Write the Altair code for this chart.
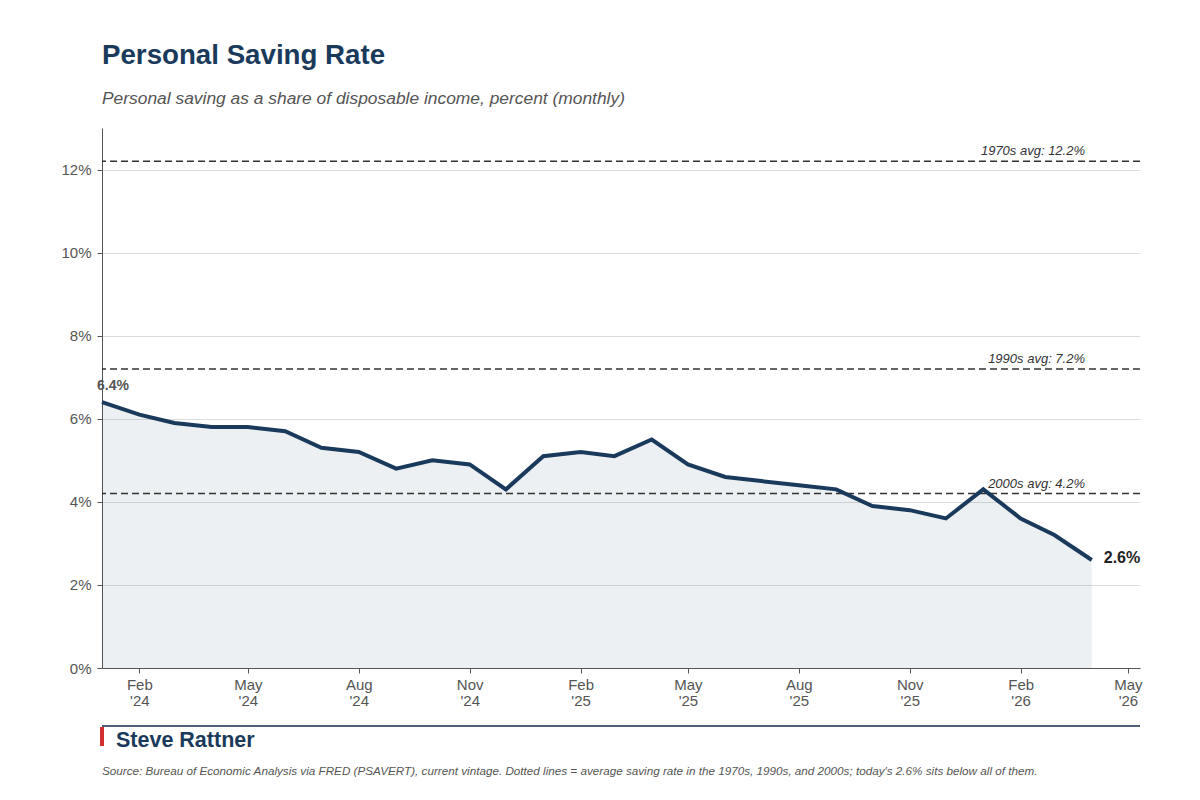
import altair as alt
import pandas as pd

months = [
    "2024-01-01", "2024-02-01", "2024-03-01", "2024-04-01", "2024-05-01", "2024-06-01",
    "2024-07-01", "2024-08-01", "2024-09-01", "2024-10-01", "2024-11-01", "2024-12-01",
    "2025-01-01", "2025-02-01", "2025-03-01", "2025-04-01", "2025-05-01", "2025-06-01",
    "2025-07-01", "2025-08-01", "2025-09-01", "2025-10-01", "2025-11-01", "2025-12-01",
    "2026-01-01", "2026-02-01", "2026-03-01", "2026-04-01",
]
saving_rate = [
    6.4, 6.1, 5.9, 5.8, 5.8, 5.7, 5.3, 5.2, 4.8, 5.0, 4.9, 4.3,
    5.1, 5.2, 5.1, 5.5, 4.9, 4.6, 4.5, 4.4, 4.3, 3.9, 3.8, 3.6,
    4.3, 3.6, 3.2, 2.6,
]
avg_labels = ["1970s avg: 12.2%", "1990s avg: 7.2%", "2000s avg: 4.2%"]
avg_values = [12.2, 7.2, 4.2]
tick_months = [(2024, 2), (2024, 5), (2024, 8), (2024, 11), (2025, 2), (2025, 5),
               (2025, 8), (2025, 11), (2026, 2), (2026, 5)]
title_text = ["Personal Saving Rate"]
subtitle_text = ["Personal saving as a share of disposable income, percent (monthly)"]
brand_text = ["Steve Rattner"]
source_text = ["Source: Bureau of Economic Analysis via FRED (PSAVERT), current vintage. "
               "Dotted lines = average saving rate in the 1970s, 1990s, and 2000s; "
               "today's 2.6% sits below all of them."]

NAVY = "#1a3a5c"
W, H = 1038, 540
FONT = "Liberation Sans"

df = pd.DataFrame({"date": months, "rate": saving_rate})
avg_df = pd.DataFrame({"label": avg_labels, "value": avg_values})
first_df = df.iloc[[0]].assign(lbl=lambda d: d["rate"].map(lambda v: f"{v:.1f}%"))
last_df = df.iloc[[-1]].assign(lbl=lambda d: d["rate"].map(lambda v: f"{v:.1f}%"))

xscale = alt.Scale(type="utc",
                   domain=[alt.DateTime(year=2024, month=1, date=1, utc=True),
                           alt.DateTime(year=2026, month=5, date=11, utc=True)])
yscale = alt.Scale(domain=[0, 13], nice=False)

xaxis = alt.Axis(
    values=[alt.DateTime(year=y, month=m, date=1, utc=True) for y, m in tick_months],
    labelExpr="[utcFormat(datum.value, '%b'), \"'\" + utcFormat(datum.value, '%y')]",
    title=None, grid=False, domainColor="#555", tickColor="#555", tickSize=5,
    labelColor="#555", labelFontSize=15, labelPadding=4, labelLineHeight=16,
    labelFont=FONT,
)
yaxis = alt.Axis(
    values=[0, 2, 4, 6, 8, 10, 12], labelExpr="datum.value + '%'", title=None,
    grid=True, gridColor="#dcdcdc", domainColor="#555", tickColor="#555", tickSize=5,
    labelColor="#555", labelFontSize=15, labelPadding=6, labelFont=FONT,
)

base = alt.Chart(df)

area = base.mark_area(color=NAVY, opacity=0.08).encode(
    x=alt.X("date:T", scale=xscale, axis=xaxis),
    y=alt.Y("rate:Q", scale=yscale, axis=yaxis),
)
line = base.mark_line(color=NAVY, strokeWidth=4, strokeJoin="miter").encode(
    x="date:T", y="rate:Q"
)

rules = alt.Chart(avg_df).mark_rule(color="#333", strokeWidth=1.5, strokeDash=[7, 4]).encode(
    y="value:Q"
)
rule_text = alt.Chart(avg_df).mark_text(
    align="right", baseline="bottom", dy=-3, fontSize=13, fontStyle="italic",
    color="#333", font=FONT,
).encode(x=alt.value(983), y="value:Q", text="label:N")

first_lbl = alt.Chart(first_df).mark_text(
    align="center", baseline="bottom", dx=11, dy=-9, fontSize=14, fontWeight="bold",
    color="#555", font=FONT,
).encode(x="date:T", y="rate:Q", text="lbl:N")
last_lbl = alt.Chart(last_df).mark_text(
    align="left", baseline="middle", dx=12, dy=-2, fontSize=16, fontWeight="bold",
    color="#222", font=FONT,
).encode(x="date:T", y="rate:Q", text="lbl:N")

title = alt.Chart(pd.DataFrame({"t": title_text})).mark_text(
    align="left", baseline="alphabetic", fontSize=27.7, fontWeight="bold", color=NAVY, font=FONT,
).encode(x=alt.value(0), y=alt.value(-64), text="t:N")
subtitle = alt.Chart(pd.DataFrame({"t": subtitle_text})).mark_text(
    align="left", baseline="alphabetic", fontSize=17.4, fontStyle="italic", color="#555", font=FONT,
).encode(x=alt.value(0), y=alt.value(-24), text="t:N")

footer_line = alt.Chart(pd.DataFrame({"a": [0]})).mark_rule(color="#1a2a4c", strokeWidth=1.5).encode(
    x=alt.value(0), x2=alt.value(W), y=alt.value(598)
)
red_bar = alt.Chart(pd.DataFrame({"a": [0]})).mark_rule(color="#d32f2f", strokeWidth=4).encode(
    x=alt.value(0), y=alt.value(599), y2=alt.value(618)
)
brand = alt.Chart(pd.DataFrame({"t": brand_text})).mark_text(
    align="left", baseline="alphabetic", fontSize=21.5, fontWeight="bold", color=NAVY, font=FONT,
).encode(x=alt.value(14), y=alt.value(619), text="t:N")
source = alt.Chart(pd.DataFrame({"t": source_text})).mark_text(
    align="left", baseline="alphabetic", fontSize=11.7, fontStyle="italic", color="#555", font=FONT,
).encode(x=alt.value(0), y=alt.value(647), text="t:N")

chart = alt.layer(
    area, rules, line, rule_text, first_lbl, last_lbl,
    title, subtitle, footer_line, red_bar, brand, source,
).properties(
    width=W, height=H,
    background="white",
    autosize=alt.AutoSizeParams(type="none"),
    padding={"left": 94, "top": 120, "right": 52, "bottom": 124},
).configure_view(strokeWidth=0, stroke="transparent")

chart.save("out.html", embed_options={"renderer": "svg", "actions": False})
